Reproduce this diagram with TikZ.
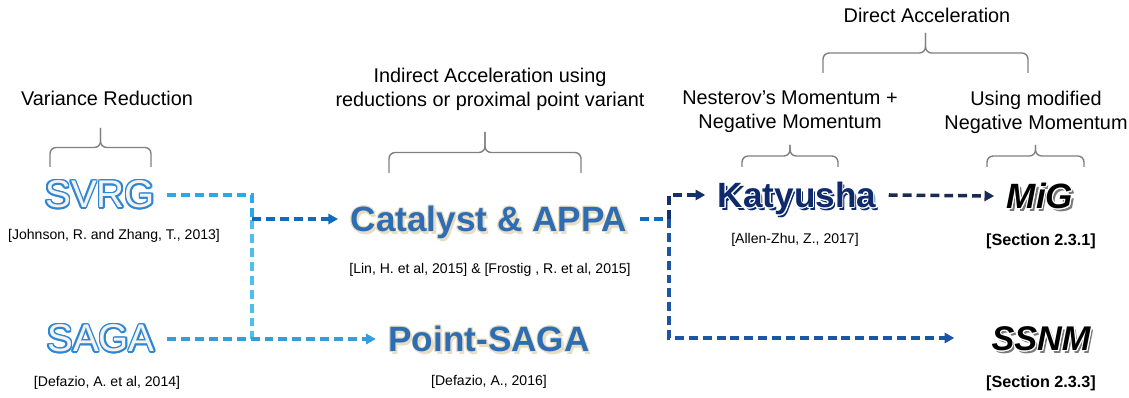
\documentclass[tikz,border=0pt]{standalone}
\usepackage{fontspec}
\setmainfont{Liberation Sans}
\usetikzlibrary{arrows.meta}
\definecolor{bracegray}{HTML}{808080}
\definecolor{skyblue}{HTML}{27AAE8}
\definecolor{paleblue}{HTML}{4FBFF0}
\definecolor{midblue}{HTML}{0B6CC0}
\definecolor{deepblue}{HTML}{1B55A3}
\definecolor{navyblue}{HTML}{12306F}
\definecolor{inkblue}{HTML}{1B2A52}
\definecolor{lineblue}{HTML}{2F86D2}
\definecolor{titleblue}{HTML}{2E6DB4}
\definecolor{cream}{HTML}{E6DDC3}
\definecolor{katnavy}{HTML}{0E2A6B}
\definecolor{palefill}{HTML}{F3F3F3}
\definecolor{shadegray}{HTML}{7A7A7A}
\newcommand{\glowtext}[4]{%
  \foreach \ang in {0,30,...,330}{%
    \pgfmathsetlengthmacro{\gx}{#2*cos(\ang)}%
    \pgfmathsetlengthmacro{\gy}{#2*sin(\ang)}%
    \rlap{\hspace*{\gx}\raisebox{\gy}{\textcolor{#1}{#4}}}}%
  \textcolor{#3}{#4}}
\newcommand{\shadowtext}[5]{%
  \rlap{\hspace*{1.3pt}\raisebox{-1.3pt}{\textcolor{#1}{#5}}}%
  \glowtext{#2}{#3}{#4}{#5}}
\newcommand{\upbrace}[4]{%
  \draw[bracepen] (#1,#3) -- (#1,{(#3+#4)/2}) -- ({(#1+#2)/2},{(#3+#4)/2}) -- ({(#1+#2)/2},#4);
  \draw[bracepen] (#2,#3) -- (#2,{(#3+#4)/2}) -- ({(#1+#2)/2},{(#3+#4)/2}) -- ({(#1+#2)/2},#4);}
\tikzset{
  algo/.style={inner xsep=7pt, inner ysep=0pt, text height=14.5pt, text depth=0pt},
  head/.style={font=\fontsize{11.3}{13.6}\selectfont, align=center, inner sep=1pt},
  reftext/.style={font=\fontsize{8}{10}\selectfont, inner sep=1pt},
  secref/.style={font=\fontsize{9.2}{11}\selectfont\bfseries, inner sep=1pt},
  dashline/.style={line width=2pt, dash pattern=on 5.1pt off 2.8pt},
  arr/.style={dashline, -{Triangle[length=5.5pt,width=5.8pt]}},
  bracepen/.style={draw=bracegray, line width=0.8pt, rounded corners=3.5pt},
}
\begin{document}
\begin{tikzpicture}[x=0.02cm, y=-0.02cm]
    \useasboundingbox (0,0) rectangle (1129,398);
    \node[head] (vrtext) at (107,98) {Variance Reduction};
    \node[head] (indtext) at (490,89) {Indirect Acceleration using\\reductions or proximal point variant};
    \node[head] (dirtext) at (927,15) {Direct Acceleration};
    \node[head] (nestext) at (790,112) {Nesterov’s Momentum +\\Negative Momentum};
    \node[head] (modtext) at (1036,112) {Using modified\\Negative Momentum};
    \upbrace{50}{151}{167}{128}
    \upbrace{389}{581}{173}{132}
    \upbrace{823}{1028}{73}{33}
    \upbrace{742}{838}{167}{145}
    \upbrace{987}{1084}{167}{145}
    \node[algo, font=\fontsize{22}{26}\selectfont] (svrg) at (100,195) {\glowtext{lineblue}{0.9pt}{palefill}{SVRG}};
    \node[algo, font=\fontsize{22}{26}\selectfont] (saga) at (101,339) {\glowtext{lineblue}{0.9pt}{palefill}{SAGA}};
    \node[algo, font=\fontsize{20}{24}\selectfont\bfseries] (catalyst) at (489,219) {\shadowtext{cream}{cream}{0.5pt}{titleblue}{Catalyst \& APPA}};
    \node[algo, font=\fontsize{20}{24}\selectfont\bfseries] (psaga) at (489,339) {\shadowtext{cream}{cream}{0.5pt}{titleblue}{Point-SAGA}};
    \node[algo, font=\fontsize{20}{24}\selectfont\bfseries] (katyusha) at (797,195) {\shadowtext{katnavy}{white}{0.6pt}{katnavy}{Katyusha}};
    \node[algo, font=\fontsize{20}{24}\selectfont\bfseries\itshape] (mig) at (1040,196) {\shadowtext{shadegray}{white}{0.6pt}{black}{MiG}};
    \node[algo, font=\fontsize{19.5}{24}\selectfont\bfseries\itshape] (ssnm) at (1041,338) {\shadowtext{shadegray}{white}{0.6pt}{black}{SSNM}};
    \node[reftext] (svrgref) at (114,236) {[Johnson, R. and Zhang, T., 2013]};
    \node[reftext] (sagaref) at (107,383) {[Defazio, A. et al, 2014]};
    \node[reftext] (catref) at (490,270) {[Lin, H. et al, 2015] \& [Frostig , R. et al, 2015]};
    \node[reftext] (psagaref) at (489,382) {[Defazio, A., 2016]};
    \node[reftext] (katref) at (795,240) {[Allen-Zhu, Z., 2017]};
    \node[secref] (migref) at (1041,241) {[Section 2.3.1]};
    \node[secref] (ssnmref) at (1041,383) {[Section 2.3.3]};
    \coordinate (splitL) at (252,219);
    \coordinate (splitR) at (669,219);
    \draw[dashline, skyblue] (svrg.east) -| (splitL);
    \draw[dashline, paleblue] (saga.east) -| (splitL);
    \draw[arr, paleblue!60!midblue] (saga.east) -- (psaga.west);
    \draw[arr, midblue] (splitL) -- (catalyst.west);
    \draw[dashline, midblue] (catalyst.east) -- (splitR);
    \draw[arr, navyblue] (splitR) |- (katyusha.west);
    \draw[arr, deepblue, shorten >=14pt] (splitR) |- (ssnm.west);
    \draw[arr, inkblue] (katyusha.east) -- (mig.west);
  \end{tikzpicture}
\end{document}
